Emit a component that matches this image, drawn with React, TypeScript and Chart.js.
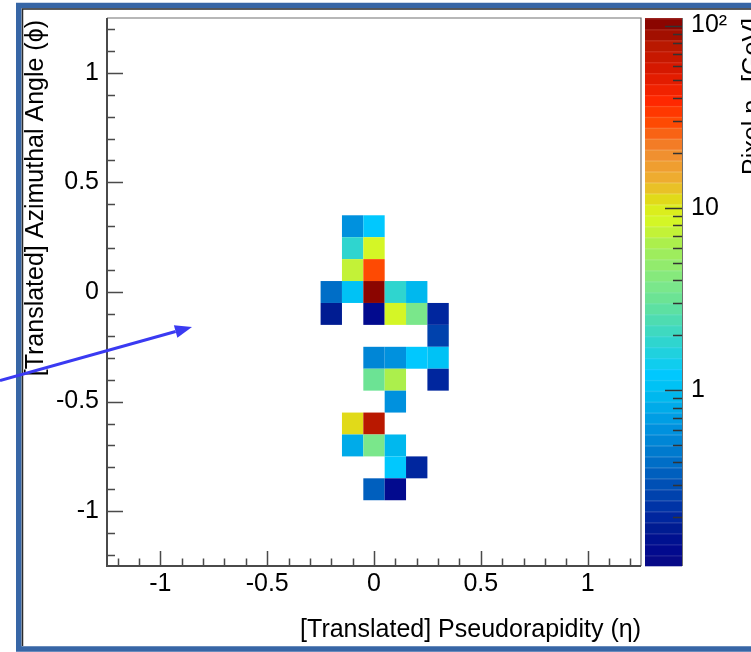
import React, { useEffect, useRef } from "react";
import { Chart, registerables } from "chart.js";

Chart.register(...registerables);

// ---------- data ----------
const etaValues = [
  -0.1, 0.0,
  -0.1, 0.0,
  -0.1, 0.0,
  -0.2, -0.1, 0.0, 0.1, 0.2,
  -0.2, 0.0, 0.1, 0.2, 0.3,
  0.3,
  0.0, 0.1, 0.2, 0.3,
  0.0, 0.1, 0.3,
  0.1,
  -0.1, 0.0,
  -0.1, 0.0, 0.1,
  0.1, 0.2,
  0.0, 0.1,
];
const phiValues = [
  0.3, 0.3,
  0.2, 0.2,
  0.1, 0.1,
  0.0, 0.0, 0.0, 0.0, 0.0,
  -0.1, -0.1, -0.1, -0.1, -0.1,
  -0.2,
  -0.3, -0.3, -0.3, -0.3,
  -0.4, -0.4, -0.4,
  -0.5,
  -0.6, -0.6,
  -0.7, -0.7, -0.7,
  -0.8, -0.8,
  -0.9, -0.9,
];
const ptValues = [
  0.6, 1.21,
  1.77, 8.07,
  7.1, 30.5,
  0.41, 1.0, 105, 1.77, 0.88,
  0.17, 0.141, 8.6, 3.78, 0.206,
  0.28,
  0.53, 0.6, 1.25, 1.05,
  3.3, 6.3, 0.19,
  0.62,
  11.1, 78,
  0.78, 3.8, 0.97,
  1.25, 0.2,
  0.36, 0.141,
];
const axisTickValues = [-1, -0.5, 0, 0.5, 1];
const colorTickValues = [1, 10, 100];
const etaMin = -1.25;
const etaMax = 1.25;
const phiMin = -1.25;
const phiMax = 1.25;
const ptMin = 0.108;
const ptMax = 110;
const binWidth = 0.1;

const xTitle = "[Translated] Pseudorapidity (\u03B7)";
const yTitle = "[Translated] Azimuthal Angle (\u03D5)";
const zTitleA = "Pixel p";
const zTitleSub = "T";
const zTitleB = " [GeV]";

// ---------- style ----------
const FONT = "'Liberation Sans', Arial, Helvetica, sans-serif";
const NBANDS = 50;
const paletteStops: [number, string][] = [
  [0.0, "#0a0a85"],
  [0.038, "#000a90"],
  [0.066, "#001a90"],
  [0.093, "#0028a0"],
  [0.139, "#0048b0"],
  [0.193, "#0070c8"],
  [0.248, "#0090dd"],
  [0.285, "#00a8e8"],
  [0.321, "#00bff0"],
  [0.349, "#00c8ff"],
  [0.403, "#2ad4d4"],
  [0.495, "#70e490"],
  [0.513, "#7ce88a"],
  [0.586, "#a8ee50"],
  [0.622, "#d0f42a"],
  [0.64, "#d8f820"],
  [0.668, "#e0dc18"],
  [0.704, "#eeb030"],
  [0.759, "#f08a30"],
  [0.814, "#ff4500"],
  [0.85, "#ff2800"],
  [0.905, "#d81800"],
  [0.951, "#b81800"],
  [1.0, "#800000"],
];

function hexToRgb(h: string) {
  const n = parseInt(h.slice(1), 16);
  return [(n >> 16) & 255, (n >> 8) & 255, n & 255];
}
function palette(f: number) {
  f = Math.max(0, Math.min(1, f));
  for (let i = 0; i < paletteStops.length - 1; i++) {
    const [f0, c0] = paletteStops[i];
    const [f1, c1] = paletteStops[i + 1];
    if (f >= f0 && f <= f1) {
      const t = (f - f0) / (f1 - f0 || 1);
      const a = hexToRgb(c0);
      const b = hexToRgb(c1);
      const r = a.map((v, k) => Math.round(v + (b[k] - v) * t));
      return `rgb(${r[0]},${r[1]},${r[2]})`;
    }
  }
  return paletteStops[paletteStops.length - 1][1];
}
const lMin = Math.log10(ptMin);
const lMax = Math.log10(ptMax);
function bandColor(k: number) {
  return palette((k + 0.5) / NBANDS);
}
function colorFor(v: number) {
  const f = (Math.log10(v) - lMin) / (lMax - lMin);
  const k = Math.max(0, Math.min(NBANDS - 1, Math.floor(f * NBANDS)));
  return bandColor(k);
}

function fmt(v: number) {
  if (Math.abs(v) < 1e-9) return "0";
  return String(Math.round(v * 100) / 100);
}

const drawPlugin = {
  id: "heatmapDecor",
  beforeDraw(chart: any) {
    const ctx = chart.ctx;
    ctx.save();
    ctx.fillStyle = "#ffffff";
    ctx.fillRect(0, 0, chart.width, chart.height);
    ctx.restore();
  },
  afterDatasetsDraw(chart: any) {
    const ctx = chart.ctx;
    const xs = chart.scales.x;
    const ys = chart.scales.y;
    const area = chart.chartArea;
    ctx.save();
    ctx.beginPath();
    ctx.rect(area.left, area.top, area.right - area.left, area.bottom - area.top);
    ctx.clip();
    const pts = chart.data.datasets[0].data;
    for (const p of pts) {
      const x0 = xs.getPixelForValue(p.x - binWidth / 2);
      const x1 = xs.getPixelForValue(p.x + binWidth / 2);
      const y0 = ys.getPixelForValue(p.y + binWidth / 2);
      const y1 = ys.getPixelForValue(p.y - binWidth / 2);
      ctx.fillStyle = colorFor(p.v);
      ctx.fillRect(x0, y0, x1 - x0, y1 - y0);
    }
    ctx.restore();
  },
  afterDraw(chart: any) {
    const ctx = chart.ctx;
    const xs = chart.scales.x;
    const ys = chart.scales.y;
    const cs = chart.scales.c;
    const area = chart.chartArea;
    ctx.save();

    // frame
    ctx.lineCap = "butt";
    ctx.strokeStyle = "#707070";
    ctx.lineWidth = 1.2;
    ctx.beginPath();
    ctx.moveTo(area.left, area.top);
    ctx.lineTo(area.right, area.top);
    ctx.lineTo(area.right, area.bottom);
    ctx.stroke();
    ctx.strokeStyle = "#4a4a4a";
    ctx.lineWidth = 2;
    ctx.beginPath();
    ctx.moveTo(area.left, area.top);
    ctx.lineTo(area.left, area.bottom);
    ctx.lineTo(area.right, area.bottom);
    ctx.stroke();

    // ticks
    ctx.lineWidth = 1.5;
    ctx.strokeStyle = "#4a4a4a";
    ctx.beginPath();
    for (let k = -12; k <= 12; k++) {
      const v = k / 10;
      const major = k % 5 === 0;
      const py = Math.round(ys.getPixelForValue(v)) + 0.5;
      ctx.moveTo(area.left, py);
      ctx.lineTo(area.left + (major ? 16 : 8), py);
      const px = Math.round(xs.getPixelForValue(v)) + 0.5;
      ctx.moveTo(px, area.bottom);
      ctx.lineTo(px, area.bottom - (major ? 15 : 7.5));
    }
    ctx.stroke();

    // colour bar
    const cbL = cs.left + 4;
    const cbR = cs.left + 41;
    for (let k = 0; k < NBANDS; k++) {
      const lo = Math.pow(10, lMin + (k * (lMax - lMin)) / NBANDS);
      const hi = Math.pow(10, lMin + ((k + 1) * (lMax - lMin)) / NBANDS);
      const yT = cs.getPixelForValue(hi);
      const yB = cs.getPixelForValue(lo);
      ctx.fillStyle = bandColor(k);
      ctx.fillRect(cbL, yT, cbR - cbL, yB - yT + 0.3);
      ctx.fillStyle = "rgba(255,255,255,0.12)";
      ctx.fillRect(cbL, yT, cbR - cbL, 1.5);
    }
    ctx.strokeStyle = "#707070";
    ctx.lineWidth = 1;
    ctx.beginPath();
    ctx.moveTo(cbR + 0.5, cs.top);
    ctx.lineTo(cbR + 0.5, cs.bottom);
    ctx.stroke();
    ctx.strokeStyle = "#333";
    ctx.lineWidth = 1.3;
    ctx.beginPath();
    for (let e = -1; e <= 2; e++) {
      for (let m = 1; m <= 9; m++) {
        const v = m * Math.pow(10, e);
        if (v < ptMin || v > ptMax) continue;
        const py = Math.round(cs.getPixelForValue(v)) + 0.5;
        ctx.moveTo(cbR, py);
        ctx.lineTo(cbR - (m === 1 ? 17 : 9), py);
      }
    }
    ctx.stroke();

    // axis titles
    ctx.fillStyle = "#000";
    ctx.font = `25px ${FONT}`;
    ctx.textBaseline = "alphabetic";
    ctx.textAlign = "right";
    ctx.fillText(xTitle, area.right, 637);

    ctx.save();
    ctx.translate(43, area.top + 2);
    ctx.rotate(-Math.PI / 2);
    ctx.textAlign = "right";
    ctx.fillText(yTitle, 0, 0);
    ctx.restore();

    // z title (clipped by the picture edge)
    ctx.save();
    ctx.translate(760, area.top);
    ctx.rotate(-Math.PI / 2);
    ctx.textAlign = "left";
    ctx.font = `25px ${FONT}`;
    const wA = ctx.measureText(zTitleA).width;
    const wB = ctx.measureText(zTitleB).width;
    ctx.font = `18px ${FONT}`;
    const wS = ctx.measureText(zTitleSub).width;
    const x0 = -(wA + wS + wB);
    ctx.font = `25px ${FONT}`;
    ctx.fillText(zTitleA, x0, 0);
    ctx.font = `18px ${FONT}`;
    ctx.fillText(zTitleSub, x0 + wA, 5);
    ctx.font = `25px ${FONT}`;
    ctx.fillText(zTitleB, x0 + wA + wS, 0);
    ctx.restore();

    // slide border
    ctx.strokeStyle = "#3766a6";
    ctx.lineWidth = 5.5;
    ctx.strokeRect(18.75, 5.5, 900, 643.5);
    ctx.strokeStyle = "#2a2a2a";
    ctx.lineWidth = 1.5;
    ctx.beginPath();
    ctx.moveTo(22.5, 646);
    ctx.lineTo(22.5, 9);
    ctx.lineTo(760, 9);
    ctx.stroke();

    // arrow annotation
    const ax0 = 0, ay0 = 380.5, ax1 = 192, ay1 = 327;
    const ang = Math.atan2(ay1 - ay0, ax1 - ax0);
    const headL = 17, headW = 6.5;
    const bx = ax1 - headL * Math.cos(ang);
    const by = ay1 - headL * Math.sin(ang);
    ctx.strokeStyle = "#3a3af2";
    ctx.fillStyle = "#3a3af2";
    ctx.lineWidth = 3;
    ctx.beginPath();
    ctx.moveTo(ax0, ay0);
    ctx.lineTo(bx, by);
    ctx.stroke();
    ctx.beginPath();
    ctx.moveTo(ax1, ay1);
    ctx.lineTo(bx + headW * Math.sin(ang), by - headW * Math.cos(ang));
    ctx.lineTo(bx - headW * Math.sin(ang), by + headW * Math.cos(ang));
    ctx.closePath();
    ctx.fill();

    ctx.restore();
  },
};

export default function App() {
  const ref = useRef<HTMLCanvasElement | null>(null);
  useEffect(() => {
    if (!ref.current) return;
    const chart = new Chart(ref.current, {
      type: "scatter",
      data: {
        datasets: [
          {
            data: etaValues.map((x, i) => ({ x, y: phiValues[i], v: ptValues[i] })) as any,
            pointRadius: 0,
            pointHoverRadius: 0,
          },
        ],
      },
      options: {
        animation: false,
        responsive: false,
        maintainAspectRatio: false,
        devicePixelRatio: 1,
        events: [],
        layout: { padding: { top: 18, left: 0, right: 0, bottom: 0 } },
        plugins: { legend: { display: false }, tooltip: { enabled: false } },
        scales: {
          x: {
            type: "linear",
            position: "bottom",
            min: etaMin,
            max: etaMax,
            grid: { display: false, drawTicks: false },
            border: { display: false },
            afterBuildTicks: (s: any) => {
              s.ticks = axisTickValues.map((v) => ({ value: v }));
            },
            afterFit: (s: any) => {
              s.height = 86;
              s.paddingLeft = 0;
              s.paddingRight = 0;
            },
            ticks: {
              font: { family: FONT, size: 25 },
              color: "#000",
              padding: 3,
              maxRotation: 0,
              autoSkip: false,
              callback: (v: any) => fmt(Number(v)),
            },
          },
          y: {
            type: "linear",
            position: "left",
            min: phiMin,
            max: phiMax,
            grid: { display: false, drawTicks: false },
            border: { display: false },
            afterBuildTicks: (s: any) => {
              s.ticks = axisTickValues.map((v) => ({ value: v }));
            },
            afterFit: (s: any) => {
              s.width = 107;
              s.paddingTop = 0;
              s.paddingBottom = 0;
            },
            ticks: {
              font: { family: FONT, size: 25 },
              color: "#000",
              padding: 8,
              autoSkip: false,
              callback: (v: any) => fmt(Number(v)),
            },
          },
          c: {
            type: "logarithmic",
            position: "right",
            min: ptMin,
            max: ptMax,
            grid: { display: false, drawTicks: false },
            border: { display: false },
            afterBuildTicks: (s: any) => {
              s.ticks = colorTickValues.map((v) => ({ value: v }));
            },
            afterFit: (s: any) => {
              s.width = 110;
              s.paddingTop = 0;
              s.paddingBottom = 0;
            },
            ticks: {
              font: { family: FONT, size: 25 },
              color: "#000",
              padding: 50,
              autoSkip: false,
              callback: (v: any) => (Number(v) === 100 ? "10\u00B2" : String(v)),
            },
          },
        } as any,
      },
      plugins: [drawPlugin],
    });
    return () => chart.destroy();
  }, []);
  return (
    <div style={{ position: "absolute", left: 0, top: 0, width: 751, height: 652, background: "#fff", overflow: "hidden" }}>
      <canvas ref={ref} width={751} height={652} style={{ display: "block" }} />
    </div>
  );
}
